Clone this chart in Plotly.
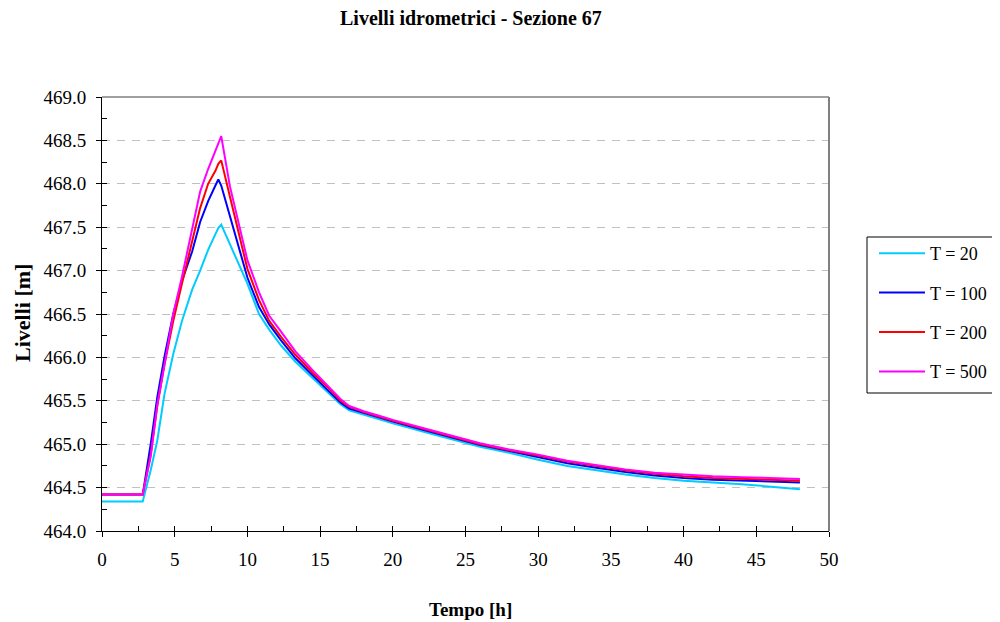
import plotly.graph_objects as go

# Data
tempo = [0, 2.8, 3.35, 3.8, 4.3, 4.9, 5.5, 6.2, 6.75, 7.3, 7.8, 8.0, 8.2, 8.8, 9.4, 10.0,
         10.8, 11.5, 12.3, 13.3, 14.5, 15.5, 16.4, 17.0, 18.0, 19.0, 20.0, 22.0, 24.0,
         26.0, 28.0, 30.0, 32.0, 34.0, 36.0, 38.0, 40.0, 42.0, 44.0, 46.0, 48.0]

livelli_T20 = [464.34, 464.34, 464.70, 465.04, 465.58, 466.04, 466.42, 466.78, 467.00, 467.24,
               467.42, 467.49, 467.53, 467.31, 467.09, 466.85, 466.50, 466.32, 466.14, 465.95,
               465.76, 465.60, 465.46, 465.39, 465.34, 465.29, 465.24, 465.15, 465.06, 464.97,
               464.90, 464.82, 464.75, 464.70, 464.65, 464.61, 464.58, 464.56, 464.54, 464.51,
               464.48]

livelli_T100 = [464.42, 464.42, 465.00, 465.54, 466.01, 466.50, 466.88, 467.22, 467.56, 467.80,
                467.98, 468.05, 467.98, 467.63, 467.25, 466.92, 466.58, 466.38, 466.20, 465.99,
                465.79, 465.63, 465.48, 465.41, 465.36, 465.31, 465.26, 465.17, 465.08, 464.99,
                464.92, 464.85, 464.78, 464.73, 464.68, 464.64, 464.61, 464.59, 464.58, 464.57,
                464.56]

livelli_T200 = [464.42, 464.42, 464.88, 465.44, 465.92, 466.42, 466.85, 467.32, 467.72, 468.00,
                468.15, 468.23, 468.27, 467.85, 467.43, 467.02, 466.66, 466.42, 466.24, 466.03,
                465.82, 465.66, 465.50, 465.43, 465.37, 465.32, 465.27, 465.18, 465.09, 465.00,
                464.93, 464.87, 464.80, 464.75, 464.70, 464.66, 464.63, 464.61, 464.60, 464.59,
                464.58]

livelli_T500 = [464.42, 464.42, 464.86, 465.45, 465.92, 466.50, 466.93, 467.47, 467.91, 468.17,
                468.38, 468.48, 468.55, 467.97, 467.53, 467.12, 466.75, 466.48, 466.30, 466.07,
                465.85, 465.68, 465.52, 465.44, 465.38, 465.33, 465.28, 465.19, 465.10, 465.01,
                464.94, 464.88, 464.81, 464.76, 464.71, 464.67, 464.65, 464.63, 464.62, 464.61,
                464.60]

serie = [
    ("T = 20", livelli_T20, "#00CCFF"),
    ("T = 100", livelli_T100, "#0000FF"),
    ("T = 200", livelli_T200, "#FF0000"),
    ("T = 500", livelli_T500, "#FF00FF"),
]

x_range = [0, 50]
y_range = [464.0, 469.0]

FONT = "Liberation Serif, Times New Roman, serif"

# the page body has an 8px margin; positions below are page pixels minus it
OFF = 8
W, H = 1000 - OFF, 622 - OFF
L, R, T, B = 102 - OFF, 829 - OFF, 97 - OFF, 531 - OFF

def px_x(p):
    return (p - OFF - L) / (R - L)

def px_y(p):
    return (B - (p - OFF)) / (B - T)

fig = go.Figure()
for i, (name, vals, col) in enumerate(serie):
    fig.add_trace(go.Scatter(
        x=tempo, y=vals, mode="lines", name=name,
        line=dict(color=col, width=2),
        legendgroup=f"g{i}",
    ))

# dummy trace to activate overlay axes (inside ticks)
fig.add_trace(go.Scatter(x=[None], y=[None], xaxis="x2", yaxis="y2",
                         showlegend=False, hoverinfo="skip"))

fig.update_layout(
    width=W, height=H,
    margin=dict(l=L, r=W - R, t=T, b=H - B, autoexpand=False),
    paper_bgcolor="white", plot_bgcolor="white",
    font=dict(family=FONT, color="black", size=19),
    showlegend=True,
    legend=dict(
        x=px_x(874), y=px_y(235), xanchor="left", yanchor="top",
        borderwidth=0, bgcolor="rgba(0,0,0,0)",
        font=dict(family=FONT, size=18, color="black"),
        itemwidth=46, tracegroupgap=13,
    ),
    xaxis=dict(
        range=x_range, dtick=5, tick0=0,
        showline=True, linecolor="black", linewidth=1,
        ticks="outside", ticklen=5, tickcolor="black",
        showgrid=False, zeroline=False,
        tickfont=dict(family=FONT, size=19),
        ticklabelstandoff=6,
    ),
    yaxis=dict(
        range=y_range, dtick=0.5, tick0=464,
        tickformat=".1f",
        showline=True, linecolor="black", linewidth=1,
        ticks="outside", ticklen=5, tickcolor="black",
        showgrid=True, gridcolor="#C0C0C0", gridwidth=1, griddash="8px,7px",
        zeroline=False,
        tickfont=dict(family=FONT, size=19),
        ticklabelstandoff=6,
    ),
    xaxis2=dict(
        range=x_range, overlaying="x", anchor="y", side="bottom",
        dtick=2.5, tick0=0, ticks="inside", ticklen=5, tickcolor="black",
        showticklabels=False, showgrid=False, zeroline=False, showline=False,
    ),
    yaxis2=dict(
        range=y_range, overlaying="y", anchor="x", side="left",
        dtick=0.25, tick0=464, ticks="inside", ticklen=5, tickcolor="black",
        showticklabels=False, showgrid=False, zeroline=False, showline=False,
    ),
)

# top and right frame in gray
fig.add_shape(type="line", xref="paper", yref="paper", x0=0, x1=1, y0=1, y1=1,
              line=dict(color="#808080", width=1.5))
fig.add_shape(type="line", xref="paper", yref="paper", x0=1, x1=1, y0=0, y1=1,
              line=dict(color="#808080", width=2))

# legend box
fig.add_shape(type="rect", xref="paper", yref="paper",
              x0=px_x(867), x1=px_x(996), y0=px_y(393), y1=px_y(237),
              line=dict(color="black", width=1), fillcolor="white", layer="below")

# texts
fig.add_annotation(text="<b>Livelli idrometrici - Sezione 67</b>", xref="paper", yref="paper",
                   x=px_x(471), y=px_y(18), xanchor="center", yanchor="middle",
                   showarrow=False, font=dict(family=FONT, size=20, color="black"))
fig.add_annotation(text="<b>Tempo [h]</b>", xref="paper", yref="paper",
                   x=px_x(470), y=px_y(609), xanchor="center", yanchor="middle",
                   showarrow=False, font=dict(family=FONT, size=19, color="black"))
fig.add_annotation(text="<b>Livelli [m]</b>", xref="paper", yref="paper",
                   x=px_x(22), y=px_y(313), xanchor="center", yanchor="middle",
                   textangle=-90, showarrow=False,
                   font=dict(family=FONT, size=22, color="black"))

fig.write_html("out.html")
